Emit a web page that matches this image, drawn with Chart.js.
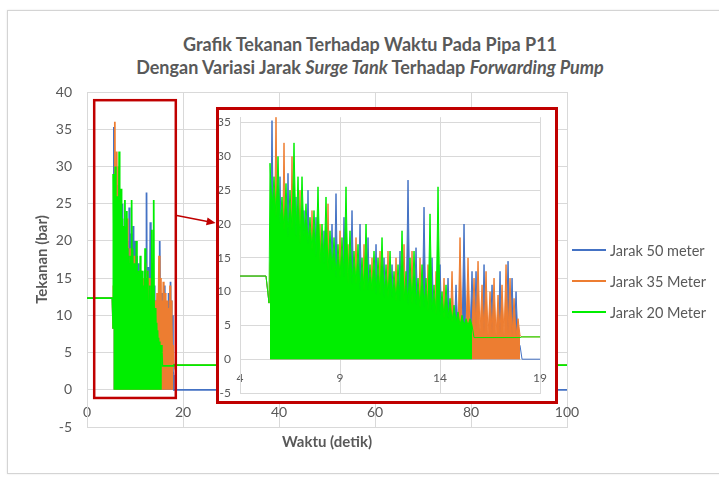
<!DOCTYPE html>
<html>
<head>
<meta charset="utf-8">
<script src="https://cdn.jsdelivr.net/npm/chart.js@4.4.1/dist/chart.umd.min.js"></script>
<style>
  html, body { margin: 0; padding: 0; background: #fff; }
  body { width: 719px; height: 477px; position: relative; overflow: hidden; font-family: Lato, sans-serif; }
  #frame { position: absolute; left: 7px; top: 10px; width: 740px; height: 462px; border: 1px solid #d4d4d4; box-shadow: 0 0 2px #e6e6e6; }
  #title { position: absolute; left: 0; top: 33px; width: 740px; text-align: center; font-size: 18px; font-weight: bold; line-height: 23px; color: #595959; }
  #main-wrap { position: absolute; left: 0; top: 80px; }
  #inset-wrap { position: absolute; left: 216px; top: 107px; width: 342px; height: 297px; box-sizing: border-box; border: 3px solid #c00000; background: #fff; }
  #inset-wrap canvas { display: block; }
  #legend { position: absolute; left: 572px; top: 241px; }
  .item { display: flex; align-items: center; height: 18px; margin-bottom: 13px; }
  .item .swatch { width: 34px; height: 0; border-top: 2px solid; }
  .item span { margin-left: 4px; font-size: 14.5px; color: #595959; white-space: nowrap; }
</style>
</head>
<body>
<div id="frame"></div>
<div id="title">
  <div>Grafik Tekanan Terhadap Waktu Pada Pipa P11</div>
  <div>Dengan Variasi Jarak <i>Surge Tank</i> Terhadap <i>Forwarding Pump</i></div>
</div>
<div id="main-wrap"><canvas id="main" width="719" height="375"></canvas></div>
<div id="inset-wrap"><canvas id="inset" width="336" height="291"></canvas></div>
<div id="legend"></div>

<script>
// ── Data ──

// time (s), shared by the three series
const waktu = [
  0, 5.3, 5.45,
  5.5, 5.6, 5.7, 5.8, 5.9, 6.0, 6.1, 6.2, 6.3, 6.4,
  6.5, 6.6, 6.7, 6.8, 6.9, 7.0, 7.1, 7.2, 7.3, 7.4,
  7.5, 7.6, 7.7, 7.8, 7.9, 8.0, 8.1, 8.2, 8.3, 8.4,
  8.5, 8.6, 8.7, 8.8, 8.9, 9.0, 9.1, 9.2, 9.3, 9.4,
  9.5, 9.6, 9.7, 9.8, 9.9, 10.0, 10.1, 10.2, 10.3, 10.4,
  10.5, 10.6, 10.7, 10.8, 10.9, 11.0, 11.1, 11.2, 11.3, 11.4,
  11.5, 11.6, 11.7, 11.8, 11.9, 12.0, 12.1, 12.2, 12.3, 12.4,
  12.5, 12.6, 12.7, 12.8, 12.9, 13.0, 13.1, 13.2, 13.3, 13.4,
  13.5, 13.6, 13.7, 13.8, 13.9, 14.0, 14.1, 14.2, 14.3, 14.4,
  14.5, 14.6, 14.7, 14.8, 14.9, 15.0, 15.1, 15.2, 15.3, 15.4,
  15.5, 15.6, 15.7, 15.8, 15.9, 16.0, 16.1, 16.2, 16.3, 16.4,
  16.5, 16.6, 16.7, 16.8, 16.9, 17.0, 17.1, 17.2, 17.3, 17.4,
  17.5, 17.6, 17.7, 17.8, 17.9, 18.0,
  18.1, 100
];

// pressure (bar)
const jarak50 = [
  12.3, 12.3, 8.3,
  12, 35.3, 12, 12.5, 11.5, 27, 12, 12, 11, 27.5,
  11, 11.5, 11, 24, 11, 10.5, 10.5, 22, 10, 25,
  10, 10.5, 10, 21, 10, 9.5, 9.5, 19, 9, 9.5,
  9, 20, 9, 24.5, 8.5, 9, 8.5, 21, 8.5, 8.5,
  8, 22, 8, 8.5, 8, 20, 7.5, 8, 7.5, 18,
  7.5, 7.5, 7, 17, 7, 7, 7, 15, 6.5, 7,
  6.5, 14, 6.5, 6.5, 6, 16, 6, 6.5, 6, 26.5,
  6, 6, 5.5, 16.5, 5.5, 5.5, 5.5, 22.5, 5, 5,
  5, 15, 5, 5, 5, 14, 4.5, 4.5, 4.5, 12,
  4.5, 4, 4, 11, 4, 4, 4, 20, 4, 4,
  4, 13, 2.5, 13, 2.5, 2.5, 2.5, 14, 2.5, 2.5,
  2.5, 11, 2.5, 2.5, 2.5, 13, 2.5, 2.5, 2.5, 14.5,
  2.5, 12, 2.5, 10, 2.5, 2,
  0, 0
];
const jarak35 = [
  12.3, 12.3, 8.3,
  14, 16, 13, 36, 13, 14, 12, 32, 12, 12,
  12, 30, 12, 12, 11.5, 25, 11, 11, 11, 11,
  10.5, 22, 10, 11, 10, 20, 9.5, 10, 9, 23,
  9, 10, 9, 9, 8.5, 19, 8.5, 8, 8.5, 17,
  8, 9, 8, 18, 7.5, 8, 7.5, 17, 7.5, 7,
  7, 15, 7, 7, 6.5, 16, 6.5, 7, 6.5, 16,
  6, 7, 6, 15, 6, 6, 6, 17, 5.5, 6,
  5.5, 16, 5, 6, 5, 15, 5, 5, 5, 14,
  5, 5, 4.5, 13, 4.5, 5, 4, 12, 4, 4,
  4, 13, 4, 4, 4, 18, 4, 4, 4.5, 15,
  4.5, 5, 12, 4.5, 14.5, 4, 11, 4, 13, 3.5,
  10, 4, 12, 3.5, 9.5, 4, 11, 3.5, 14, 4,
  12, 3.5, 9, 3.5, 6, 3.5,
  3.3, 3.3
];
const jarak20 = [
  12.3, 12.3, 8.3,
  29, 22, 27, 21, 30, 20, 24, 19, 26, 18,
  25, 19, 32, 18, 27, 17, 27, 18, 23, 17,
  21, 16, 22, 15, 25.5, 14, 20, 14, 24, 13,
  19, 13, 18, 12, 17, 12, 18, 12, 25.5, 11,
  19, 11, 16, 11, 17, 10, 15, 10, 20, 10,
  14, 10, 16, 9.5, 15, 9.5, 18, 9, 14, 9,
  16, 9, 13, 8.5, 14, 8.5, 19, 8.5, 13, 8,
  15, 8, 16, 8, 12, 7.5, 14, 7.5, 12, 7,
  21.5, 7, 11, 6.5, 25.5, 6.5, 10, 6, 11, 6,
  9, 5.5, 8, 5.5, 7, 5, 6.5, 5, 6, 5,
  6, 5, 3.2, 3.2, 3.2, 3.2, 3.2, 3.2, 3.2, 3.2,
  3.2, 3.2, 3.2, 3.2, 3.2, 3.2, 3.2, 3.2, 3.2, 3.2,
  3.2, 3.2, 3.2, 3.2, 3.2, 3.2,
  3.3, 3.3
];

const seriesNames = ['Jarak 50 meter', 'Jarak 35 Meter', 'Jarak 20 Meter'];
const seriesValues = [jarak50, jarak35, jarak20];
const seriesColors = ['#4472c4', '#ed7d31', '#00ee00'];

// oscillation window (s): dense part drawn as a filled band
const waveStart = 5.5;
const waveEnd = [18.0, 18.0, 15.6];

// zoom box on the main chart, in data units
const boxX = [1.5, 18.5];
const boxY = [-1.1, 38.9];
const arrowFrom = [18.7, 23.4];
const arrowTo = [26.8, 22.4];

// ── Styles ──
const textGrey = '#595959';
const gridGrey = '#d9d9d9';
const frameRed = '#c00000';

Chart.defaults.font.family = 'Lato';

function makeDatasets(lineW) {
  return seriesValues.map((vals, k) => ({
    label: seriesNames[k],
    data: waktu.map((t, i) => ({ x: t, y: vals[i] })),
    borderColor: seriesColors[k],
    backgroundColor: seriesColors[k],
    borderWidth: lineW,
    pointRadius: 0,
    tension: 0,
    fill: 'origin',
    order: 3 - k,   // green last = on top
    segment: {
      backgroundColor: ctx =>
        (ctx.p0.parsed.x >= waveStart && ctx.p1.parsed.x <= waveEnd[k]) ? seriesColors[k] : 'rgba(0,0,0,0)'
    }
  }));
}

// red box + arrow pointing at the inset
const zoomMarks = {
  id: 'zoomMarks',
  afterDatasetsDraw(chart) {
    const { ctx, scales: { x, y } } = chart;
    ctx.save();
    ctx.strokeStyle = frameRed;
    ctx.lineWidth = 2.5;
    const bx0 = x.getPixelForValue(boxX[0]), bx1 = x.getPixelForValue(boxX[1]);
    const by0 = y.getPixelForValue(boxY[1]), by1 = y.getPixelForValue(boxY[0]);
    ctx.strokeRect(bx0, by0, bx1 - bx0, by1 - by0);

    const x0 = x.getPixelForValue(arrowFrom[0]), y0 = y.getPixelForValue(arrowFrom[1]);
    const x1 = x.getPixelForValue(arrowTo[0]), y1 = y.getPixelForValue(arrowTo[1]);
    const ang = Math.atan2(y1 - y0, x1 - x0);
    ctx.lineWidth = 1.5;
    ctx.beginPath();
    ctx.moveTo(x0, y0);
    ctx.lineTo(x1 - 7 * Math.cos(ang), y1 - 7 * Math.sin(ang));
    ctx.stroke();
    ctx.fillStyle = frameRed;
    ctx.beginPath();
    ctx.moveTo(x1, y1);
    ctx.lineTo(x1 - 9 * Math.cos(ang) + 4 * Math.sin(ang), y1 - 9 * Math.sin(ang) - 4 * Math.cos(ang));
    ctx.lineTo(x1 - 9 * Math.cos(ang) - 4 * Math.sin(ang), y1 - 9 * Math.sin(ang) + 4 * Math.cos(ang));
    ctx.closePath();
    ctx.fill();
    ctx.restore();
  }
};

const tickFont = { size: 14 };
const axisTitleFont = { size: 15, weight: 'bold' };

// ── Main chart ──
new Chart(document.getElementById('main'), {
  type: 'line',
  data: { datasets: makeDatasets(1.75) },
  options: {
    responsive: false, animation: false, events: [],
    layout: { padding: { left: 0, right: 152, top: 12, bottom: 0 } },
    plugins: { legend: { display: false }, tooltip: { enabled: false } },
    scales: {
      x: {
        type: 'linear', min: 0, max: 100,
        // labels sit just above the bottom edge, as in the original
        ticks: { stepSize: 20, font: tickFont, color: textGrey, mirror: true, padding: 6, maxRotation: 0 },
        grid: { color: gridGrey, drawTicks: false },
        border: { color: gridGrey },
        title: { display: true, text: 'Waktu (detik)', font: axisTitleFont, color: textGrey, padding: { top: 0, bottom: 4 } },
        afterFit: s => { s.height = 28; }
      },
      y: {
        min: -5, max: 40,
        ticks: { stepSize: 5, font: tickFont, color: textGrey, padding: 0 },
        grid: { color: gridGrey, drawTicks: true, tickLength: 15, tickColor: 'rgba(0,0,0,0)' },
        border: { color: gridGrey },
        title: { display: true, text: 'Tekanan (bar)', font: axisTitleFont, color: textGrey, padding: { top: 33, bottom: 0 } },
        afterFit: s => { s.width = 87; }
      }
    }
  },
  plugins: [zoomMarks]
});

// ── Inset (zoom on 4–19 s) ──
const insetFont = { family: "'Liberation Sans Narrow', Lato", size: 12 };
new Chart(document.getElementById('inset'), {
  type: 'line',
  data: { datasets: makeDatasets(1) },
  options: {
    responsive: false, animation: false, events: [],
    layout: { padding: { left: 0, right: 5, top: 5, bottom: 0 } },
    plugins: { legend: { display: false }, tooltip: { enabled: false } },
    scales: {
      x: {
        type: 'linear', min: 4, max: 19,
        ticks: { stepSize: 5, font: insetFont, color: textGrey, mirror: true, padding: 8, maxRotation: 0 },
        grid: { color: gridGrey, drawTicks: false },
        border: { color: gridGrey },
        afterFit: s => { s.height = 8; }
      },
      y: {
        min: -5, max: 35.8,
        ticks: { stepSize: 5, includeBounds: false, font: insetFont, color: textGrey, padding: 0 },
        grid: { color: gridGrey, drawTicks: true, tickLength: 9, tickColor: 'rgba(0,0,0,0)' },
        border: { color: gridGrey },
        afterFit: s => { s.width = 21; }
      }
    }
  }
});

// ── Legend ──
document.getElementById('legend').innerHTML = seriesNames.map((name, k) =>
  `<div class="item"><div class="swatch" style="border-color:${seriesColors[k]}"></div><span>${name}</span></div>`
).join('');
</script>
</body>
</html>
